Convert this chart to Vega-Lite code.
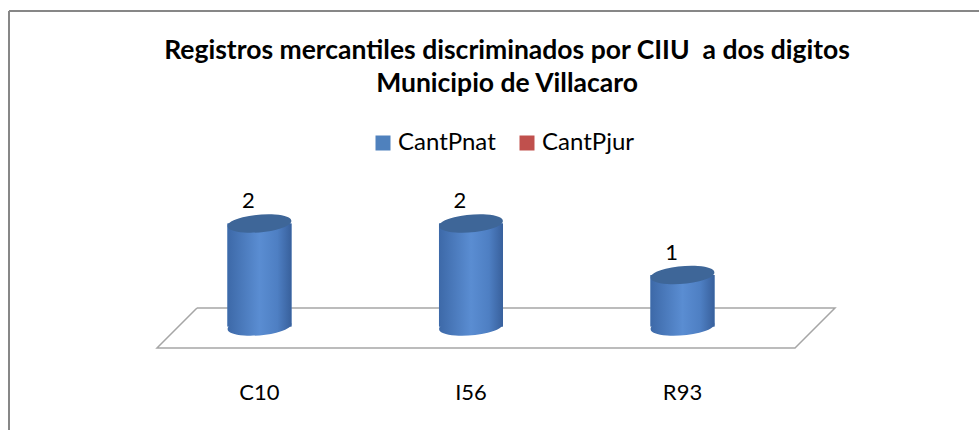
{
  "$schema": "https://vega.github.io/schema/vega-lite/v6.json",
  "width": 970,
  "height": 419,
  "autosize": {"type": "none"},
  "padding": {"left": 9, "top": 11, "right": 0, "bottom": 0},
  "background": "white",
  "config": {
    "view": {"stroke": null},
    "font": "Lato",
    "legend": {
      "symbolType": "square",
      "symbolSize": 225,
      "symbolStrokeWidth": 0,
      "labelFont": "Lato",
      "labelFontSize": 24,
      "labelColor": "#000000",
      "labelOffset": 3,
      "columnPadding": 19,
      "padding": 0
    }
  },
  "title": {
    "text": ["Registros mercantiles discriminados por CIIU\u00a0 a dos digitos", "Municipio de Villacaro"],
    "font": "Lato",
    "fontSize": 26.5,
    "fontWeight": "bold",
    "color": "#000000",
    "anchor": "middle",
    "frame": "group",
    "baseline": "top",
    "lineHeight": 33,
    "dx": 13,
    "offset": -87
  },
  "datasets": {
    "registros": [
      {"ciiu": "C10", "serie": "CantPnat", "cantidad": 2},
      {"ciiu": "I56", "serie": "CantPnat", "cantidad": 2},
      {"ciiu": "R93", "serie": "CantPnat", "cantidad": 1}
    ],
    "piso": [
      {"orden": 1, "u": 0.7045, "v": 0.359},
      {"orden": 2, "u": 3.721, "v": 0.359},
      {"orden": 3, "u": 3.532, "v": -0.4175},
      {"orden": 4, "u": 0.5154, "v": -0.4175},
      {"orden": 5, "u": 0.7045, "v": 0.359}
    ]
  },
  "layer": [
    {
      "data": {"name": "piso"},
      "layer": [
        {
          "mark": {"type": "line", "stroke": "#A6A6A6", "strokeWidth": 1.5, "interpolate": "linear"},
          "encoding": {
            "x": {"field": "u", "type": "quantitative", "scale": {"domain": [-0.1844, 4.4019], "nice": false, "zero": false}, "axis": null},
            "y": {"field": "v", "type": "quantitative", "scale": {"domain": [-2.0097, 6.1262], "nice": false, "zero": false}, "axis": null},
            "order": {"field": "orden", "type": "quantitative"}
          }
        },
        {
          "mark": {"type": "rule", "stroke": "#878787", "strokeWidth": 2},
          "encoding": {
            "x": {"datum": -0.1844, "type": "quantitative"}
          }
        },
        {
          "mark": {"type": "rule", "stroke": "#878787", "strokeWidth": 2},
          "encoding": {
            "y": {"datum": 6.1262, "type": "quantitative"}
          }
        }
      ]
    },
    {
      "data": {"name": "registros"},
      "encoding": {
        "x": {
          "field": "ciiu",
          "type": "nominal",
          "sort": null,
          "scale": {"type": "band", "paddingInner": 0, "paddingOuter": 0.793, "align": 0.4314},
          "axis": {
            "orient": "bottom",
            "offset": -38,
            "domain": false,
            "ticks": false,
            "grid": false,
            "labelPadding": 0,
            "labelBaseline": "middle",
            "labelFont": "Lato",
            "labelFontSize": 22,
            "labelColor": "#000000",
            "labelAngle": 0,
            "title": null
          }
        }
      },
      "layer": [
        {
          "mark": {"type": "bar", "width": 64},
          "encoding": {
            "y": {"field": "cantidad", "type": "quantitative", "axis": null},
            "y2": {"datum": 0},
            "color": {
              "field": "serie",
              "type": "nominal",
              "scale": {"domain": ["CantPnat", "CantPjur"], "range": ["#4F81BD", "#C0504D"]},
              "legend": {"title": null, "orient": "none", "direction": "horizontal", "legendX": 362, "legendY": 120}
            }
          }
        },
        {
          "mark": {
            "type": "point",
            "filled": true,
            "opacity": 1,
            "strokeWidth": 0,
            "size": 4096,
            "shape": "M-0.996,0.087A1,0.27,-5,1,1,0.996,-0.087A1,0.27,-5,1,1,-0.996,0.087Z",
            "fill": {
              "gradient": "linear", "x1": 0, "y1": 0, "x2": 1, "y2": 0,
              "stops": [
                {"offset": 0, "color": "#3D69A8"},
                {"offset": 0.5, "color": "#5A8DD2"},
                {"offset": 0.78, "color": "#4E7FC3"},
                {"offset": 1, "color": "#38609C"}
              ]
            }
          },
          "encoding": {
            "y": {"datum": 0, "type": "quantitative"}
          }
        },
        {
          "mark": {
            "type": "bar",
            "width": 64,
            "fill": {
              "gradient": "linear", "x1": 0, "y1": 0, "x2": 1, "y2": 0,
              "stops": [
                {"offset": 0, "color": "#3D69A8"},
                {"offset": 0.5, "color": "#5A8DD2"},
                {"offset": 0.78, "color": "#4E7FC3"},
                {"offset": 1, "color": "#38609C"}
              ]
            }
          },
          "encoding": {
            "y": {"field": "cantidad", "type": "quantitative"},
            "y2": {"datum": 0}
          }
        },
        {
          "mark": {
            "type": "point",
            "filled": true,
            "opacity": 1,
            "strokeWidth": 0,
            "size": 4096,
            "fill": "#3E6698",
            "shape": "M-0.996,0.087A1,0.27,-5,1,1,0.996,-0.087A1,0.27,-5,1,1,-0.996,0.087Z"
          },
          "encoding": {
            "y": {"field": "cantidad", "type": "quantitative"}
          }
        },
        {
          "mark": {"type": "text", "font": "Lato", "fontSize": 22, "fill": "#000000", "baseline": "middle", "align": "center", "dx": -11, "dy": -22},
          "encoding": {
            "y": {"field": "cantidad", "type": "quantitative"},
            "text": {"field": "cantidad", "type": "quantitative"}
          }
        }
      ]
    }
  ],
  "resolve": {"scale": {"x": "independent"}}
}
